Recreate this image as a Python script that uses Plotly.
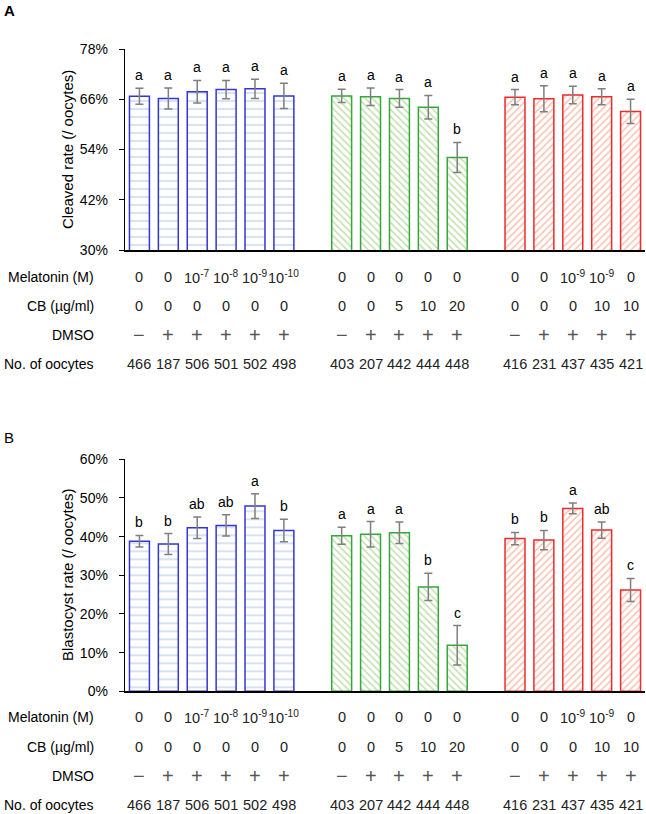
import plotly.graph_objects as go

# ---------------- data ----------------
group_sizes = [6, 5, 5]

melatonin_labels = ["0", "0", "10<sup>-7</sup>", "10<sup>-8</sup>", "10<sup>-9</sup>", "10<sup>-10</sup>",
                    "0", "0", "0", "0", "0",
                    "0", "0", "10<sup>-9</sup>", "10<sup>-9</sup>", "0"]
cb_labels = ["0", "0", "0", "0", "0", "0",
             "0", "0", "5", "10", "20",
             "0", "0", "0", "10", "10"]
dmso_labels = ["−", "+", "+", "+", "+", "+",
               "−", "+", "+", "+", "+",
               "−", "+", "+", "+", "+"]
oocyte_counts = ["466", "187", "506", "501", "502", "498",
                 "403", "207", "442", "444", "448",
                 "416", "231", "437", "435", "421"]

cleaved_rate = [66.7, 66.2, 67.8, 68.3, 68.5, 66.8,
                66.8, 66.6, 66.2, 64.1, 52.1,
                66.5, 66.1, 67.0, 66.6, 63.1]
cleaved_err = [1.9, 2.5, 2.7, 2.2, 2.3, 3.0,
               1.6, 2.1, 2.1, 2.8, 3.6,
               1.8, 3.1, 2.1, 1.9, 2.9]
cleaved_letters = ["a", "a", "a", "a", "a", "a",
                   "a", "a", "a", "a", "b",
                   "a", "a", "a", "a", "a"]

blast_rate = [38.8, 38.1, 42.3, 42.9, 47.9, 41.6,
              40.2, 40.6, 41.0, 27.0, 11.9,
              39.5, 39.1, 47.3, 41.7, 26.2]
blast_err = [1.5, 2.7, 2.8, 2.75, 3.2, 2.9,
             2.2, 3.3, 2.8, 3.5, 5.1,
             1.6, 2.5, 1.4, 2.1, 3.0]
blast_letters = ["b", "b", "ab", "ab", "a", "b",
                 "a", "a", "a", "b", "c",
                 "b", "b", "a", "ab", "c"]

cleaved_ticks = [30, 42, 54, 66, 78]
cleaved_tick_text = ["30%", "42%", "54%", "66%", "78%"]
blast_ticks = [0, 10, 20, 30, 40, 50, 60]
blast_tick_text = ["0%", "10%", "20%", "30%", "40%", "50%", "60%"]

row_labels = ["Melatonin (M)", "CB (µg/ml)", "DMSO", "No. of oocytes"]

# ---------------- layout helpers ----------------
W, H = 646, 814
FONT = "Liberation Sans, Arial, sans-serif"

# slot positions: one empty slot between groups
slots = []
group_index = []
s = 0
for gi, n in enumerate(group_sizes):
    for k in range(n):
        slots.append(s)
        group_index.append(gi)
        s += 1
    s += 1

styles = [
    dict(line="#3535d4", fg="#6d97cf", shape="-", size=8, solidity=0.14),
    dict(line="#35a83c", fg="#86c25e", shape="\\", size=5, solidity=0.32),
    dict(line="#f02a2a", fg="#f2876a", shape="/", size=5, solidity=0.32),
]

def py(p):
    return 1 - p / H

fig = go.Figure()

panels = [
    dict(vals=cleaved_rate, err=cleaved_err, letters=cleaved_letters, xa="x", ya="y"),
    dict(vals=blast_rate, err=blast_err, letters=blast_letters, xa="x2", ya="y2"),
]

for p in panels:
    for gi in range(len(group_sizes)):
        idx = [i for i in range(len(slots)) if group_index[i] == gi]
        st = styles[gi]
        fig.add_trace(go.Bar(
            x=[slots[i] for i in idx],
            y=[p["vals"][i] for i in idx],
            width=0.69,
            xaxis=p["xa"], yaxis=p["ya"],
            marker=dict(
                color="white",
                line=dict(color=st["line"], width=1.5),
                pattern=dict(shape=st["shape"], fgcolor=st["fg"], bgcolor="white",
                             size=st["size"], solidity=st["solidity"], fillmode="overlay"),
            ),
            error_y=dict(type="data", array=[p["err"][i] for i in idx],
                         color="#7f7f7f", thickness=1.5, width=4),
            showlegend=False,
            hoverinfo="skip",
        ))
    for i in range(len(slots)):
        fig.add_annotation(
            x=slots[i], y=p["vals"][i] + p["err"][i],
            xref=p["xa"], yref=p["ya"],
            text=p["letters"][i], showarrow=False,
            xanchor="center", yanchor="middle", yshift=13,
            font=dict(family=FONT, size=14, color="black"),
        )

# table rows
table_rows_top = [277, 306, 335, 364]
table_rows_bot = [717, 746.5, 776, 805]
row_values = [melatonin_labels, cb_labels, dmso_labels, oocyte_counts]
for rows in (table_rows_top, table_rows_bot):
    for r, ypix in enumerate(rows):
        fig.add_annotation(
            x=96 / W, y=py(ypix), xref="paper", yref="paper",
            text=row_labels[r], showarrow=False, xanchor="right", yanchor="middle",
            font=dict(family=FONT, size=14, color="black"),
        )
        for i in range(len(slots)):
            fig.add_annotation(
                x=slots[i], y=py(ypix), xref="x", yref="paper",
                text=row_values[r][i], showarrow=False, xanchor="center", yanchor="middle",
                font=dict(family=FONT, size=20 if r == 2 else 14.5,
                          color="#555555" if r == 2 else "#222222"),
            )

# axis titles and panel letters
fig.add_annotation(x=67 / W, y=py(150), xref="paper", yref="paper",
                   xanchor="center", yanchor="middle",
                   text="Cleaved rate (/ oocytes)", textangle=-90, showarrow=False,
                   font=dict(family=FONT, size=15, color="black"))
fig.add_annotation(x=67 / W, y=py(575), xref="paper", yref="paper",
                   xanchor="center", yanchor="middle",
                   text="Blastocyst rate (/ oocytes)", textangle=-90, showarrow=False,
                   font=dict(family=FONT, size=15, color="black"))
fig.add_annotation(x=2 / W, y=py(10), xref="paper", yref="paper",
                   xanchor="left", yanchor="middle",
                   text="<b>A</b>", showarrow=False,
                   font=dict(family=FONT, size=15, color="black"))
fig.add_annotation(x=2 / W, y=py(437), xref="paper", yref="paper",
                   xanchor="left", yanchor="middle",
                   text="B", showarrow=False,
                   font=dict(family=FONT, size=15, color="black"))

xdom = [125 / W, 645 / W]
xrange = [-0.5, slots[-1] + 0.5]
xcommon = dict(domain=xdom, range=xrange, showticklabels=False, ticks="",
               showline=True, linecolor="black", linewidth=1.5, showgrid=False,
               zeroline=False, fixedrange=True)
ycommon = dict(showline=True, linecolor="black", linewidth=1.3, ticks="outside",
               ticklen=5, tickcolor="black", showgrid=False, zeroline=False,
               automargin=False, tickmode="array", ticklabelstandoff=8,
               tickfont=dict(family=FONT, size=14, color="black"))

fig.update_layout(
    width=W, height=H, autosize=False,
    margin=dict(l=0, r=0, t=0, b=0, pad=0),
    paper_bgcolor="white", plot_bgcolor="rgba(0,0,0,0)",
    barmode="overlay",
    xaxis=dict(**xcommon, anchor="y"),
    xaxis2=dict(**xcommon, anchor="y2"),
    yaxis=dict(**ycommon, domain=[py(250), py(49)], range=[30, 78],
               tickvals=cleaved_ticks, ticktext=cleaved_tick_text, anchor="x"),
    yaxis2=dict(**ycommon, domain=[py(691.3), py(459.3)], range=[0, 60],
                tickvals=blast_ticks, ticktext=blast_tick_text, anchor="x2"),
)

fig.write_html("out.html",
               config={"displayModeBar": False, "staticPlot": True},
               post_script="document.body.style.margin='0';document.body.style.padding='0';")
